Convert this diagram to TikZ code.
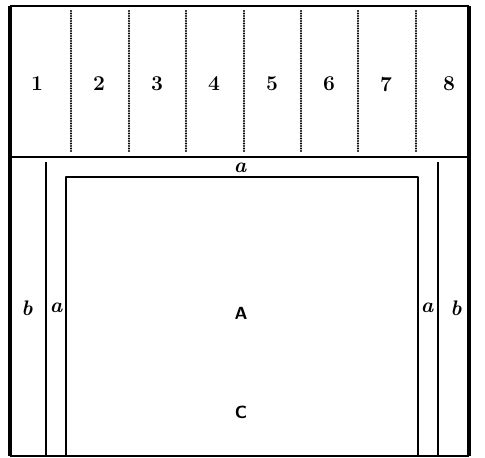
\documentclass[tikz,border=0pt]{standalone}
\usetikzlibrary{positioning}

\begin{document}
\begin{tikzpicture}[
  x=0.2mm,
  y=-0.2mm,
  line join=round,
  frame/.style={draw=black,line width=0.55mm},
  rule/.style={draw=black,line width=0.25mm},
  divider/.style={draw=black,line width=0.45mm,line cap=round,dash pattern=on 0pt off 0.5mm},
  number/.style={font=\large\bfseries,inner sep=0pt},
  side/.style={font=\large\bfseries\itshape,inner sep=0pt},
  area/.style={font=\sffamily\bfseries,inner sep=0pt}
]
  % Match the scanned page frame.
  \useasboundingbox (0,0) rectangle (485,458);

  % Outer sheet corners and the line under the numbered strips.
  \coordinate (topLeft) at (10,6);
  \coordinate (topRight) at (469,6);
  \coordinate (bottomRight) at (469,456);
  \coordinate (bottomLeft) at (10,456);
  \coordinate (stripLeft) at (12,157);
  \coordinate (stripRight) at (467,157);

  % Outer frame, heavy on the sides.
  \draw[frame] (topLeft) -- (topRight);
  \draw[frame,line width=0.75mm] (topLeft) -- (bottomLeft);
  \draw[frame,line width=0.75mm] (topRight) -- (bottomRight);
  \draw[rule,line width=0.3mm] (bottomLeft) -- (bottomRight);
  \draw[rule] (stripLeft) -- (stripRight);

  % Dotted dividers between the eight strips.
  \foreach \xpos in {71,129,186,244,301,358,416}
    \draw[divider] (\xpos,11) -- (\xpos,152);

  % Strip numbers.
  \node[number] (stripOne) at (37,84) {1};
  \node[number] (stripTwo) at (99,84) {2};
  \node[number] (stripThree) at (157,84) {3};
  \node[number] (stripFour) at (214,84) {4};
  \node[number] (stripFive) at (272,84) {5};
  \node[number] (stripSix) at (329,84) {6};
  \node[number] (stripSeven) at (386,84) {7};
  \node[number] (stripEight) at (449,84) {8};

  % Outer margin lines b and inner margin lines a.
  \coordinate (outerLeftTop) at (46,162);
  \coordinate (outerLeftBottom) at (46,456);
  \coordinate (outerRightTop) at (438,162);
  \coordinate (outerRightBottom) at (438,456);
  \coordinate (innerLeftTop) at (66,177);
  \coordinate (innerLeftBottom) at (66,456);
  \coordinate (innerRightTop) at (418,177);
  \coordinate (innerRightBottom) at (418,456);

  \draw[rule] (outerLeftTop) -- (outerLeftBottom);
  \draw[rule] (outerRightTop) -- (outerRightBottom);
  \draw[rule] (innerLeftBottom) -- (innerLeftTop) -- (innerRightTop) -- (innerRightBottom);

  % Margin letters.
  \node[side] (topA) at (240,168) {a};
  \node[side] (leftB) at (27,308) {b};
  \node[side] (leftA) at (56,308) {a};
  \node[side] (rightA) at (427,308) {a};
  \node[side] (rightB) at (456,308) {b};

  % Area labels.
  \node[area] (areaA) at (241,313) {A};
  \node[area] (areaC) at (241,412) {C};
\end{tikzpicture}
\end{document}
